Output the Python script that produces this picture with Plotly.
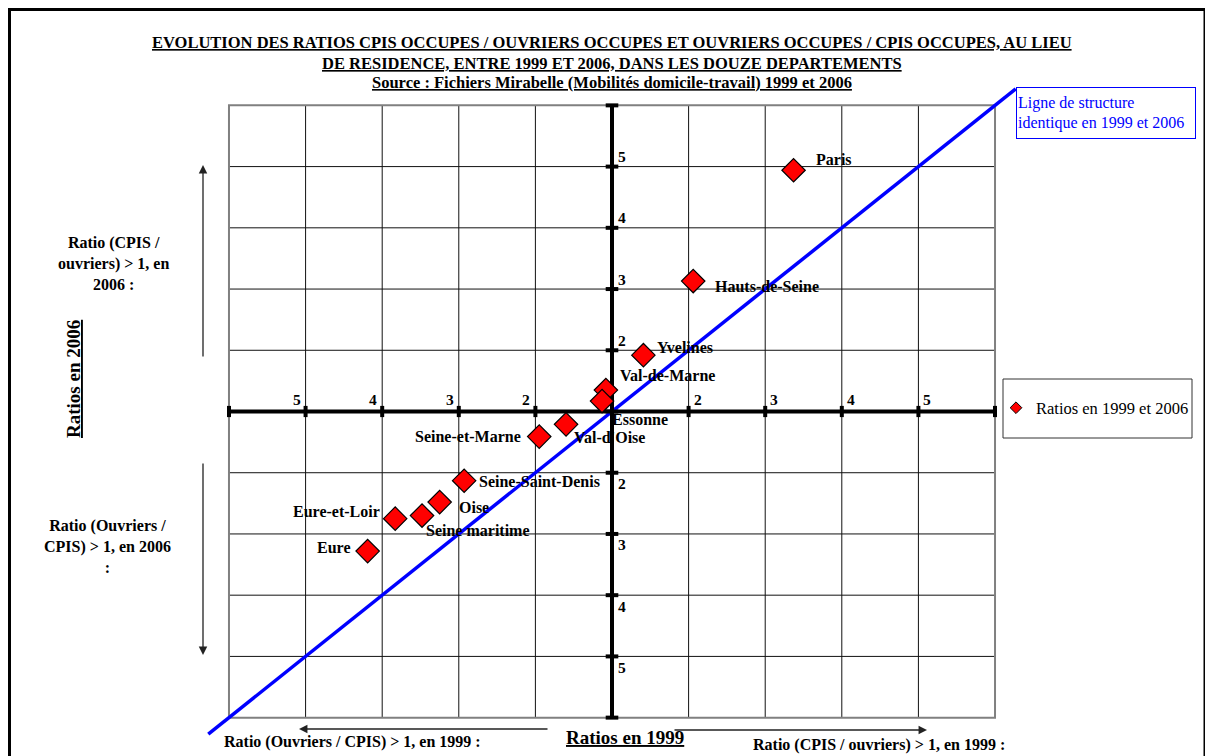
import plotly.graph_objects as go

# ---------------- data (positions on the chart's signed ratio scale) ----------------
# 0 = ratio 1 ; +k = ratio (CPIS/ouvriers) = 1+k ; -k = ratio (Ouvriers/CPIS) = 1+k
DEPARTEMENTS = ["Paris", "Hauts-de-Seine", "Yvelines", "Val-de-Marne", "Essonne",
                "Val-d'Oise", "Seine-et-Marne", "Seine-Saint-Denis", "Oise",
                "Seine maritime", "Eure-et-Loir", "Eure"]
POS_1999 = [2.37, 1.06, 0.41, -0.08, -0.13, -0.60, -0.95, -1.93, -2.25, -2.48, -2.83, -3.19]
POS_2006 = [3.94, 2.13, 0.92, 0.35, 0.17, -0.21, -0.41, -1.13, -1.48, -1.70, -1.75, -2.28]

GRID_STEPS = [-5, -4, -3, -2, -1, 0, 1, 2, 3, 4, 5]
TICK_STEPS = [-4, -3, -2, -1, 1, 2, 3, 4]
TICK_TEXT = ["5", "4", "3", "2", "2", "3", "4", "5"]
IDENTITY_LINE = [-5.27, 5.27]

TITLE_LINES = [
    "EVOLUTION DES RATIOS CPIS OCCUPES / OUVRIERS OCCUPES ET OUVRIERS OCCUPES / CPIS OCCUPES, AU LIEU",
    "DE RESIDENCE, ENTRE 1999 ET 2006, DANS LES DOUZE DEPARTEMENTS",
    "Source : Fichiers Mirabelle (Mobilités domicile-travail) 1999 et 2006",
]

# ---------------- layout helpers ----------------
W, H = 1213, 756
OFF = 8  # page body margin
ML, MR, MT, MB = 198, 203, 79, 28
PW, PH = W - ML - MR, H - MT - MB
FONT = "Liberation Serif"


def px(x):
    return (x - OFF - ML) / PW


def py(y):
    return (H - MB - (y - OFF)) / PH


# label offsets (pixels) : xshift, yshift, xanchor
LABEL_STYLE = {
    "Paris": (20, 11, "left"),
    "Hauts-de-Seine": (20, -5, "left"),
    "Yvelines": (12, 8, "left"),
    "Val-de-Marne": (12, 15, "left"),
    "Essonne": (8, -18, "left"),
    "Val-d'Oise": (6, -13, "left"),
    "Seine-et-Marne": (-16, 0, "right"),
    "Seine-Saint-Denis": (13, -1, "left"),
    "Oise": (17, -5, "left"),
    "Seine maritime": (2, -15, "left"),
    "Eure-et-Loir": (-13, 7, "right"),
    "Eure": (-16, 4, "right"),
}

fig = go.Figure()

# identity line
fig.add_trace(go.Scatter(x=IDENTITY_LINE, y=IDENTITY_LINE, mode="lines",
                         line=dict(color="#0000FF", width=3.5),
                         showlegend=False, hoverinfo="skip"))

# tick blobs on the central axes
fig.add_trace(go.Scatter(x=[0] * len(GRID_STEPS), y=GRID_STEPS, mode="markers",
                         marker=dict(symbol="line-ew", size=9,
                                     line=dict(color="black", width=4)),
                         showlegend=False, hoverinfo="skip"))
fig.add_trace(go.Scatter(x=GRID_STEPS, y=[0] * len(GRID_STEPS), mode="markers",
                         marker=dict(symbol="line-ns", size=8,
                                     line=dict(color="black", width=4)),
                         showlegend=False, hoverinfo="skip"))

# data points
fig.add_trace(go.Scatter(x=POS_1999, y=POS_2006, mode="markers", text=DEPARTEMENTS,
                         marker=dict(symbol="diamond", size=18, color="#FF0000",
                                     line=dict(color="black", width=1.2)),
                         showlegend=False, cliponaxis=False))
# legend entry
fig.add_trace(go.Scatter(x=[None], y=[None], mode="markers", name="Ratios en 1999 et 2006",
                         marker=dict(symbol="diamond", size=9, color="#FF0000",
                                     line=dict(color="black", width=1))))

shapes = []
# grid lines
for g in GRID_STEPS:
    if g in (-5, 5, 0):
        continue
    shapes.append(dict(type="line", xref="x", yref="y", x0=g, x1=g, y0=-5, y1=5,
                       line=dict(color="#111111", width=1), layer="below"))
    shapes.append(dict(type="line", xref="x", yref="y", x0=-5, x1=5, y0=g, y1=g,
                       line=dict(color="#111111", width=1), layer="below"))
# plot border
shapes.append(dict(type="rect", xref="x", yref="y", x0=-5, x1=5, y0=-5, y1=5,
                   line=dict(color="#808080", width=2), layer="below"))
# central axes
shapes.append(dict(type="line", xref="x", yref="y", x0=0, x1=0, y0=-5, y1=5,
                   line=dict(color="black", width=4), layer="below"))
shapes.append(dict(type="line", xref="x", yref="y", x0=-5, x1=5, y0=0, y1=0,
                   line=dict(color="black", width=4), layer="below"))
# outer frame
shapes.append(dict(type="rect", xref="paper", yref="paper",
                   x0=px(9.5), x1=px(1205), y0=py(775), y1=py(9.5),
                   line=dict(color="black", width=3)))
# legend box
shapes.append(dict(type="rect", xref="paper", yref="paper",
                   x0=px(1003), x1=px(1192), y0=py(438), y1=py(379),
                   line=dict(color="#333333", width=1)))

ann = []


def text_ann(text, x, y, size, xanchor="center", yanchor="middle", **kw):
    d = dict(text=text, x=px(x), y=py(y), xref="paper", yref="paper", showarrow=False,
             xanchor=xanchor, yanchor=yanchor,
             font=dict(family=FONT, size=size, color=kw.pop("color", "black")))
    d.update(kw)
    return d


# title
for line, yy in zip(TITLE_LINES, [43, 63, 82]):
    ann.append(text_ann("<b><u>%s</u></b>" % line, 612, yy, 16.5))

# point labels
for name, xv, yv in zip(DEPARTEMENTS, POS_1999, POS_2006):
    xs, ys, xa = LABEL_STYLE[name]
    ann.append(dict(text="<b>%s</b>" % name, x=xv, y=yv, xref="x", yref="y",
                    xshift=xs, yshift=ys, xanchor=xa, yanchor="middle", showarrow=False,
                    font=dict(family=FONT, size=16, color="black")))

# tick labels
for s, t in zip(TICK_STEPS, TICK_TEXT):
    ann.append(dict(text="<b>%s</b>" % t, x=0, y=s, xref="x", yref="y",
                    xshift=10, yshift=10 if s > 0 else -11, xanchor="center", yanchor="middle",
                    showarrow=False, font=dict(family=FONT, size=15.5, color="black")))
    ann.append(dict(text="<b>%s</b>" % t, x=s, y=0, xref="x", yref="y",
                    xshift=9 if s > 0 else -9, yshift=12, xanchor="center", yanchor="middle",
                    showarrow=False, font=dict(family=FONT, size=15.5, color="black")))

# side texts
ann.append(text_ann("<b>Ratio (CPIS /<br>ouvriers) &gt; 1, en<br>2006 :</b>", 113, 263, 16,
                    align="center"))
ann.append(text_ann("<b>Ratio (Ouvriers /<br>CPIS) &gt; 1, en 2006<br>:</b>", 107, 546, 16,
                    align="center"))
ann.append(text_ann("<b><u>Ratios en 2006</u></b>", 73, 379, 19, textangle=-90))
ann.append(text_ann("<b><u>Ratios en 1999</u></b>", 625, 737, 19))
ann.append(text_ann("<b>Ratio (Ouvriers / CPIS) &gt; 1, en 1999 :</b>", 222, 742, 16,
                    xanchor="left"))
ann.append(text_ann("<b>Ratio (CPIS / ouvriers) &gt; 1, en 1999 :</b>", 751, 745, 16,
                    xanchor="left"))

# arrows
for (hx, hy, ax, ay) in [(203, 165, 0, 193), (203, 655, 0, -193),
                         (299, 729, 250, 0), (927, 730, -254, 0)]:
    ann.append(dict(text="", x=px(hx), y=py(hy), xref="paper", yref="paper",
                    ax=ax, ay=ay, showarrow=True, arrowhead=2, arrowsize=1.3,
                    arrowwidth=1.3, arrowcolor="#222222"))

# identity line label box
ann.append(text_ann("Ligne de structure<br>identique en 1999 et 2006", 1016, 87, 16,
                    xanchor="left", yanchor="top", color="#0000FF",
                    align="left", valign="middle", width=176, height=48,
                    bordercolor="#0000FF", borderwidth=1, borderpad=1, bgcolor="white"))

fig.update_layout(
    width=W, height=H,
    margin=dict(l=ML, r=MR, t=MT, b=MB),
    paper_bgcolor="white", plot_bgcolor="white",
    xaxis=dict(range=[-5.3, 5.3], visible=False),
    yaxis=dict(range=[-5.3, 5.3], visible=False),
    shapes=shapes, annotations=ann,
    showlegend=True,
    legend=dict(x=px(996), y=py(408), xanchor="left", yanchor="middle",
                bgcolor="rgba(0,0,0,0)", borderwidth=0,
                font=dict(family=FONT, size=16.5, color="black")),
)

fig.write_html("out.html")
